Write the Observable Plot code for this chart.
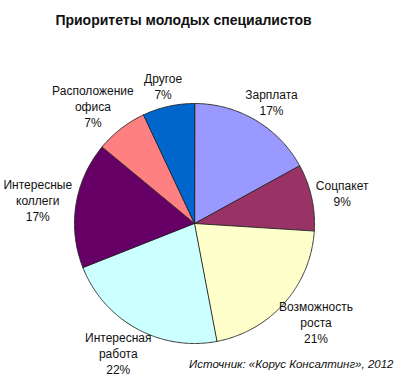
<!DOCTYPE html>
<html>
<head>
<meta charset="utf-8">
<script src="https://cdn.jsdelivr.net/npm/d3@7"></script>
<script src="https://cdn.jsdelivr.net/npm/@observablehq/plot@0.6"></script>
<style>
  html, body { margin: 0; padding: 0; background: #fff; }
  #chart svg { display: block; }
</style>
</head>
<body>
<div id="chart"></div>
<script>
// ---- data ----
const title = "Приоритеты молодых специалистов";
const source = "Источник: «Корус Консалтинг», 2012";
const categories = ["Зарплата", "Соцпакет", "Возможность\nроста", "Интересная\nработа", "Интересные\nколлеги", "Расположение\nофиса", "Другое"];
const values = [17, 9, 21, 22, 17, 7, 7];
const colors = ["#9999FF", "#993366", "#FFFFCC", "#CCFFFF", "#660066", "#FF8080", "#0066CC"];

// ---- layout ----
const W = 400, H = 378;
const cx = 194, cy = 223, r = 120;
const labelGap = 5;
const fontSize = 12, lineH = 16;
const font = "'Liberation Sans', Arial, sans-serif";

const arcs = d3.pie().sort(null).value(d => d)(values);

// slice outlines in unit coordinates (y up)
const slices = arcs.map((a, i) => {
  const pts = [{x: 0, y: 0}];
  const n = Math.max(2, Math.ceil((a.endAngle - a.startAngle) / 0.01));
  for (let k = 0; k <= n; k++) {
    const t = a.startAngle + (a.endAngle - a.startAngle) * k / n;
    pts.push({x: Math.sin(t), y: Math.cos(t)});
  }
  return pts;
});

// label positions: box touching a circle just outside the pie, kept inside the frame
const ctx = document.createElement("canvas").getContext("2d");
ctx.font = `${fontSize}px ${font}`;
const labels = arcs.map((a, i) => {
  const text = `${categories[i]}\n${values[i]}%`;
  const lines = text.split("\n");
  const w = Math.max(...lines.map(l => ctx.measureText(l).width));
  const h = lines.length * lineH;
  const m = (a.startAngle + a.endAngle) / 2;
  const s = Math.sin(m), c = Math.cos(m);
  const R = r + labelGap;
  let px = cx + R * s + (w / 2) * s;
  let py = cy - R * c - (h / 2) * c;
  px = Math.max(w / 2 + 3, Math.min(W - w / 2 - 3, px));
  py = Math.max(h / 2 + 3, Math.min(H - h / 2 - 2, py));
  return {text, x: (px - cx) / r, y: (cy - py) / r};
});

const chart = Plot.plot({
  width: W,
  height: H,
  margin: 0,
  style: {fontFamily: font, background: "#fff"},
  x: {domain: [-cx / r, (W - cx) / r], axis: null},
  y: {domain: [-(H - cy) / r, cy / r], axis: null},
  marks: [
    ...slices.map((pts, i) => Plot.line(pts, {
      x: "x", y: "y", curve: "linear-closed",
      fill: colors[i], stroke: "#222", strokeWidth: 0.9
    })),
    Plot.text(labels, {
      x: "x", y: "y", text: "text",
      fontSize, lineHeight: lineH / fontSize, fill: "#111",
      textAnchor: "middle", lineAnchor: "middle"
    }),
    Plot.text([title], {
      frameAnchor: "top-left", dx: 183, dy: 15,
      textAnchor: "middle", fontSize: 14, fontWeight: "bold", fill: "#111"
    }),
    Plot.text([source], {
      frameAnchor: "bottom-right", dx: -7, dy: -11,
      textAnchor: "end", fontSize: 11.5, fontStyle: "italic", fill: "#111"
    })
  ]
});
document.getElementById("chart").appendChild(chart);
</script>
</body>
</html>
